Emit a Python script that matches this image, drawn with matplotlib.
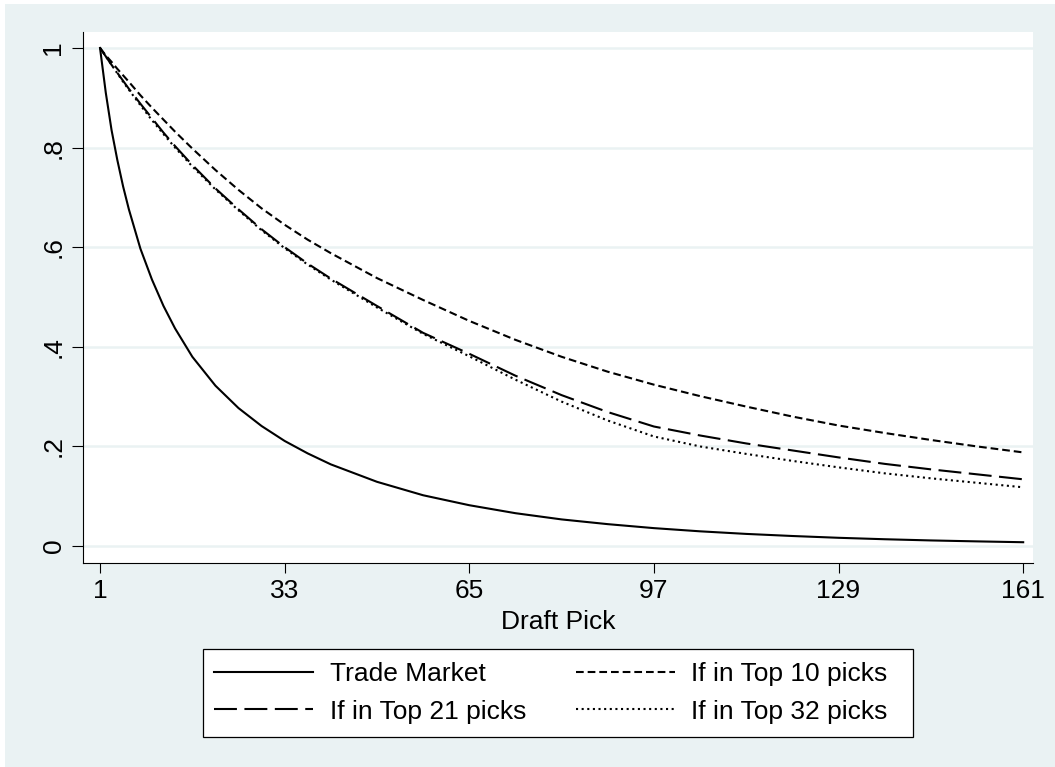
import matplotlib
matplotlib.use("Agg")
import matplotlib.pyplot as plt
from matplotlib.patches import Rectangle

# ---- data ----
picks = [1, 2, 3, 4, 5, 6, 8, 10, 12, 14, 17, 21, 25, 29, 33, 37, 41, 49, 57,
         65, 73, 81, 89, 97, 105, 113, 121, 129, 137, 145, 153, 161]

trade_market = [1.0, 0.91, 0.835, 0.775, 0.722, 0.676, 0.597, 0.535, 0.482,
                0.437, 0.38, 0.322, 0.277, 0.241, 0.211, 0.186, 0.164, 0.129,
                0.102, 0.082, 0.066, 0.0535, 0.044, 0.036, 0.0296, 0.0244,
                0.0202, 0.0166, 0.0137, 0.0113, 0.0094, 0.0077]

top10 = [1.0, 0.985, 0.972, 0.958, 0.945, 0.932, 0.905, 0.88, 0.856, 0.832,
         0.798, 0.755, 0.715, 0.678, 0.645, 0.615, 0.588, 0.538, 0.494,
         0.452, 0.414, 0.38, 0.35, 0.324, 0.301, 0.28, 0.26, 0.242, 0.227,
         0.213, 0.2, 0.188]

top21 = [1.0, 0.983, 0.966, 0.95, 0.934, 0.918, 0.888, 0.859, 0.83, 0.803,
         0.765, 0.718, 0.676, 0.636, 0.6, 0.567, 0.537, 0.482, 0.428, 0.386,
         0.342, 0.303, 0.269, 0.24, 0.222, 0.206, 0.192, 0.178, 0.165, 0.154,
         0.144, 0.134]

top32 = [1.0, 0.983, 0.966, 0.949, 0.932, 0.916, 0.885, 0.855, 0.827, 0.8,
         0.762, 0.716, 0.674, 0.634, 0.598, 0.565, 0.535, 0.479, 0.426,
         0.381, 0.334, 0.29, 0.252, 0.22, 0.2, 0.185, 0.171, 0.158, 0.146,
         0.136, 0.127, 0.118]

labels = ["Trade Market", "If in Top 10 picks", "If in Top 21 picks", "If in Top 32 picks"]
x_ticks = [1, 33, 65, 97, 129, 161]
y_ticks = [0, 0.2, 0.4, 0.6, 0.8, 1.0]
y_ticklabels = ["0", ".2", ".4", ".6", ".8", "1"]
x_label = "Draft Pick"

# ---- style ----
plt.rcParams['font.family'] = ['Liberation Sans', 'DejaVu Sans']
BG = "#EAF2F3"
W, H = 1055, 767
FS = 19

fig = plt.figure(figsize=(W / 100, H / 100), dpi=100, facecolor="white")
fig.patches.append(Rectangle((5 / W, 0), 1 - 5 / W, (H - 4) / H,
                             transform=fig.transFigure, facecolor=BG,
                             edgecolor="none", zorder=-10))

left, right, top, bottom = 83, 1033, 32, 563
ax = fig.add_axes([left / W, (H - bottom) / H, (right - left) / W, (bottom - top) / H])
ax.set_facecolor("white")
ax.set_zorder(1)

# axis limits derived from pixel geometry
ax.set_xlim(-1.95, 162.7)
ax.set_ylim(-0.034, 1.032)

for yt in y_ticks:
    ax.axhline(yt, color=BG, lw=1.8, zorder=1)

lw = 1.5
l1, = ax.plot(picks, trade_market, color="black", lw=lw, zorder=3)
l2, = ax.plot(picks, top10, color="black", lw=lw, dashes=(3.7, 1.9), zorder=3)
l3, = ax.plot(picks, top21, color="black", lw=lw, dashes=(11.0, 3.6), zorder=3)
l4, = ax.plot(picks, top32, color="black", lw=lw, dashes=(1.0, 1.7), zorder=3)

for s in ["top", "right"]:
    ax.spines[s].set_visible(False)
for s in ["left", "bottom"]:
    ax.spines[s].set_linewidth(0.8)
    ax.spines[s].set_color("black")

ax.set_xticks(x_ticks)
ax.set_xticklabels([str(v) for v in x_ticks], fontsize=FS)
ax.set_yticks(y_ticks)
ax.set_yticklabels(y_ticklabels, fontsize=FS, rotation=90, va="center")
ax.tick_params(axis="x", direction="out", length=7.5, width=0.8, pad=4.3)
ax.tick_params(axis="y", direction="out", length=8, width=0.8, pad=4.6)

fig.text(558 / W, (H - 629) / H, x_label, fontsize=FS, ha="center", va="baseline")

# legend box drawn separately (Stata pads the right side more)
bx0, bx1, by0, by1 = 203, 913, 649, 737
fig.patches.append(Rectangle((bx0 / W, (H - by1) / H), (bx1 - bx0) / W, (by1 - by0) / H,
                             transform=fig.transFigure, facecolor="white",
                             edgecolor="black", linewidth=0.9, zorder=1.5))

# Stata fills legend row-wise; matplotlib column-wise -> reorder
leg = fig.legend([l1, l3, l2, l4], [labels[0], labels[2], labels[1], labels[3]],
                 ncol=2, loc="center",
                 bbox_to_anchor=(551 / W, (H - 693) / H), fontsize=FS,
                 frameon=False,
                 handlelength=3.75, handletextpad=0.64, columnspacing=1.86,
                 labelspacing=0.5, borderpad=0.52, borderaxespad=0)
leg.set_zorder(2)

fig.savefig("out.png", dpi=100, facecolor=fig.get_facecolor())
